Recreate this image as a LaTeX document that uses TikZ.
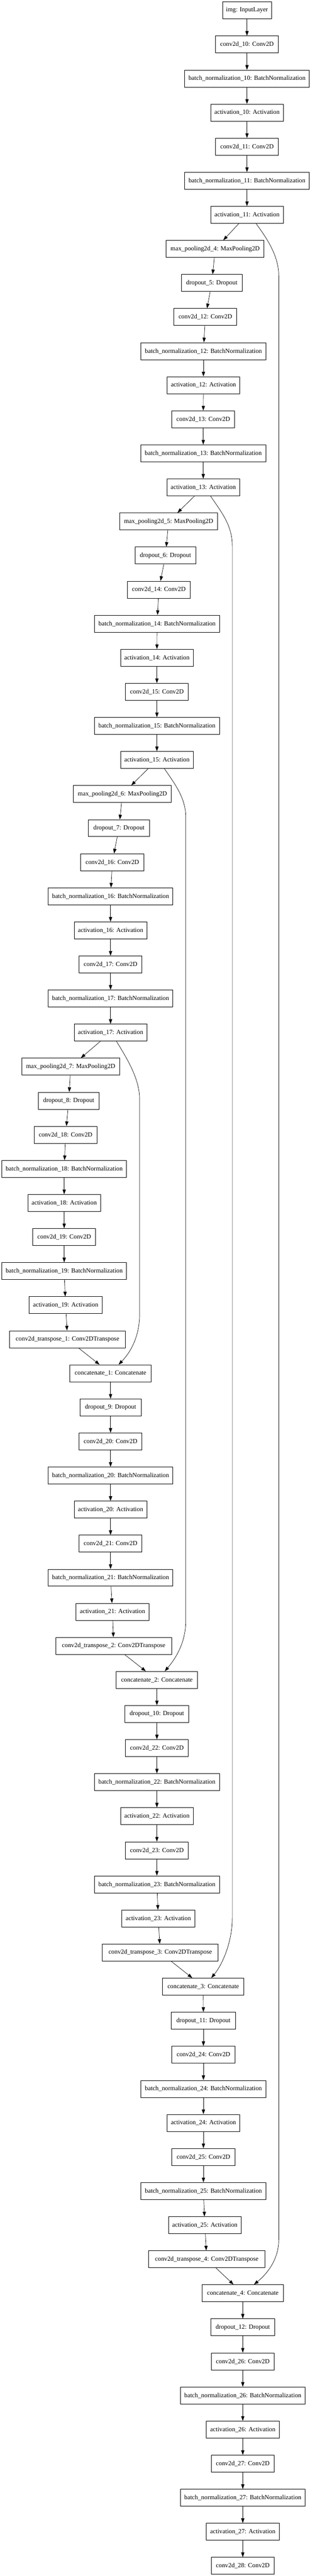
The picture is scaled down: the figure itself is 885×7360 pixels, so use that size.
\documentclass[tikz,border=0pt]{standalone}
\usepackage{fontspec}
\setmainfont{Liberation Serif}
\usetikzlibrary{arrows.meta,calc}
\newcommand\lay[5]{\node[lay,#1] (#2) at (#3,{29.75+97.35*#4}) {#5};}
\tikzset{
  lay/.style={draw, line width=1pt, rectangle, minimum height=36.4pt, inner sep=0pt,
    font=\fontsize{13.6}{16}\selectfont},
  wimg/.style={minimum width=105pt},
  wconv/.style={minimum width=135pt},
  wbn/.style={minimum width=267.75pt},
  wact/.style={minimum width=156pt},
  wpool/.style={minimum width=210pt},
  wdrop/.style={minimum width=131pt},
  wdrop2/.style={minimum width=137.25pt},
  wtr/.style={minimum width=249pt},
  wcat/.style={minimum width=174pt},
  edge/.style={line width=0.75pt, -{Triangle[length=10pt,width=7pt]}},
  skipline/.style={line width=0.75pt, -{Triangle[length=10pt,width=7pt]}}
}
\begin{document}
\begin{tikzpicture}[x=0.75pt,y=-0.75pt]
\useasboundingbox (0,0) rectangle (885,7360);
\fill[white] (0,0) rectangle (885,7360);
\lay{wimg}{n0}{706}{0}{img: InputLayer}
\lay{wconv}{n1}{706}{1}{conv2d\_10: Conv2D}
\lay{wbn}{n2}{706}{2}{batch\_normalization\_10: BatchNormalization}
\lay{wact}{n3}{706}{3}{activation\_10: Activation}
\lay{wconv}{n4}{706}{4}{conv2d\_11: Conv2D}
\lay{wbn}{n5}{706}{5}{batch\_normalization\_11: BatchNormalization}
\lay{wact}{n6}{706}{6}{activation\_11: Activation}
\lay{wpool}{n7}{615}{7}{max\_pooling2d\_4: MaxPooling2D}
\lay{wdrop}{n8}{605.5}{8}{dropout\_5: Dropout}
\lay{wconv}{n9}{587}{9}{conv2d\_12: Conv2D}
\lay{wbn}{n10}{581.5}{10}{batch\_normalization\_12: BatchNormalization}
\lay{wact}{n11}{581.5}{11}{activation\_12: Activation}
\lay{wconv}{n12}{581}{12}{conv2d\_13: Conv2D}
\lay{wbn}{n13}{581}{13}{batch\_normalization\_13: BatchNormalization}
\lay{wact}{n14}{581}{14}{activation\_13: Activation}
\lay{wpool}{n15}{482}{15}{max\_pooling2d\_5: MaxPooling2D}
\lay{wdrop}{n16}{473}{16}{dropout\_6: Dropout}
\lay{wconv}{n17}{454}{17}{conv2d\_14: Conv2D}
\lay{wbn}{n18}{449}{18}{batch\_normalization\_14: BatchNormalization}
\lay{wact}{n19}{448.5}{19}{activation\_14: Activation}
\lay{wconv}{n20}{448.5}{20}{conv2d\_15: Conv2D}
\lay{wbn}{n21}{448.5}{21}{batch\_normalization\_15: BatchNormalization}
\lay{wact}{n22}{448.5}{22}{activation\_15: Activation}
\lay{wpool}{n23}{350}{23}{max\_pooling2d\_6: MaxPooling2D}
\lay{wdrop}{n24}{340}{24}{dropout\_7: Dropout}
\lay{wconv}{n25}{321}{25}{conv2d\_16: Conv2D}
\lay{wbn}{n26}{316}{26}{batch\_normalization\_16: BatchNormalization}
\lay{wact}{n27}{316}{27}{activation\_16: Activation}
\lay{wconv}{n28}{316}{28}{conv2d\_17: Conv2D}
\lay{wbn}{n29}{316}{29}{batch\_normalization\_17: BatchNormalization}
\lay{wact}{n30}{316}{30}{activation\_17: Activation}
\lay{wpool}{n31}{202}{31}{max\_pooling2d\_7: MaxPooling2D}
\lay{wdrop}{n32}{196.5}{32}{dropout\_8: Dropout}
\lay{wconv}{n33}{187.5}{33}{conv2d\_18: Conv2D}
\lay{wbn}{n34}{183.5}{34}{batch\_normalization\_18: BatchNormalization}
\lay{wact}{n35}{183.5}{35}{activation\_18: Activation}
\lay{wconv}{n36}{183.5}{36}{conv2d\_19: Conv2D}
\lay{wbn}{n37}{183.5}{37}{batch\_normalization\_19: BatchNormalization}
\lay{wact}{n38}{187.5}{38}{activation\_19: Activation}
\lay{wtr}{n39}{193}{39}{conv2d\_transpose\_1: Conv2DTranspose}
\lay{wcat}{n40}{316}{40}{concatenate\_1: Concatenate}
\lay{wdrop}{n41}{316}{41}{dropout\_9: Dropout}
\lay{wconv}{n42}{316}{42}{conv2d\_20: Conv2D}
\lay{wbn}{n43}{316}{43}{batch\_normalization\_20: BatchNormalization}
\lay{wact}{n44}{316}{44}{activation\_20: Activation}
\lay{wconv}{n45}{316}{45}{conv2d\_21: Conv2D}
\lay{wbn}{n46}{316}{46}{batch\_normalization\_21: BatchNormalization}
\lay{wact}{n47}{321.5}{47}{activation\_21: Activation}
\lay{wtr}{n48}{325}{48}{conv2d\_transpose\_2: Conv2DTranspose}
\lay{wcat}{n49}{448.5}{49}{concatenate\_2: Concatenate}
\lay{wdrop2}{n50}{448.5}{50}{dropout\_10: Dropout}
\lay{wconv}{n51}{448.5}{51}{conv2d\_22: Conv2D}
\lay{wbn}{n52}{448.5}{52}{batch\_normalization\_22: BatchNormalization}
\lay{wact}{n53}{448.5}{53}{activation\_22: Activation}
\lay{wconv}{n54}{448.5}{54}{conv2d\_23: Conv2D}
\lay{wbn}{n55}{448.5}{55}{batch\_normalization\_23: BatchNormalization}
\lay{wact}{n56}{452.5}{56}{activation\_23: Activation}
\lay{wtr}{n57}{458}{57}{conv2d\_transpose\_3: Conv2DTranspose}
\lay{wcat}{n58}{581}{58}{concatenate\_3: Concatenate}
\lay{wdrop2}{n59}{581.5}{59}{dropout\_11: Dropout}
\lay{wconv}{n60}{581.5}{60}{conv2d\_24: Conv2D}
\lay{wbn}{n61}{581.5}{61}{batch\_normalization\_24: BatchNormalization}
\lay{wact}{n62}{581.5}{62}{activation\_24: Activation}
\lay{wconv}{n63}{581.5}{63}{conv2d\_25: Conv2D}
\lay{wbn}{n64}{581.5}{64}{batch\_normalization\_25: BatchNormalization}
\lay{wact}{n65}{585.5}{65}{activation\_25: Activation}
\lay{wtr}{n66}{591}{66}{conv2d\_transpose\_4: Conv2DTranspose}
\lay{wcat}{n67}{694}{67}{concatenate\_4: Concatenate}
\lay{wdrop2}{n68}{694}{68}{dropout\_12: Dropout}
\lay{wconv}{n69}{694}{69}{conv2d\_26: Conv2D}
\lay{wbn}{n70}{694}{70}{batch\_normalization\_26: BatchNormalization}
\lay{wact}{n71}{694}{71}{activation\_26: Activation}
\lay{wconv}{n72}{694}{72}{conv2d\_27: Conv2D}
\lay{wbn}{n73}{694}{73}{batch\_normalization\_27: BatchNormalization}
\lay{wact}{n74}{694}{74}{activation\_27: Activation}
\lay{wconv}{n75}{694}{75}{conv2d\_28: Conv2D}
\foreach \i in {0,...,74}{\pgfmathtruncatemacro\j{\i+1}\draw[edge] (n\i) -- (n\j);}
\draw[skipline] ($(n6.south)+(26,0)$) .. controls (762,680) and (797,730) .. (797,790) -- (797,6397) .. controls (797,6455) and (765,6495) .. ($(n67.north)+(32,0)$);
\draw[skipline] ($(n14.south)+(21,0)$) .. controls (632,1462) and (664,1500) .. (664,1560) -- (664,5480) .. controls (664,5545) and (638,5610) .. ($(n58.north)+(23,0)$);
\draw[skipline] ($(n22.south)+(21.5,0)$) .. controls (500,2240) and (531,2280) .. (531,2335) -- (531,4631) .. controls (531,4690) and (505,4735) .. ($(n49.north)+(22.5,0)$);
\draw[skipline] ($(n30.south)+(17,0)$) .. controls (360,3020) and (399,3080) .. (399,3140) -- (399,3755) .. controls (399,3820) and (372,3865) .. ($(n40.north)+(23,0)$);
\end{tikzpicture}
\end{document}
